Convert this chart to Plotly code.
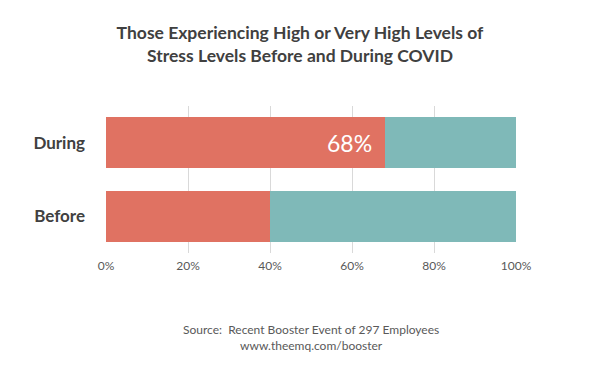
import plotly.graph_objects as go

categories = ["Before", "During"]
high_stress = [40, 68]
rest = [60, 32]
label_value = "68%"
x_ticks = [0, 20, 40, 60, 80, 100]
x_tick_labels = ["0%", "20%", "40%", "60%", "80%", "100%"]

RED = "#E07262"
TEAL = "#7FB9B8"

fig = go.Figure()
fig.add_trace(go.Bar(
    y=categories, x=high_stress, orientation="h",
    marker=dict(color=RED, line=dict(width=0)),
    hoverinfo="skip", showlegend=False,
))
fig.add_trace(go.Bar(
    y=categories, x=rest, orientation="h",
    marker=dict(color=TEAL, line=dict(width=0)),
    hoverinfo="skip", showlegend=False,
))

fig.update_layout(
    barmode="stack",
    bargap=0.31,
    width=600, height=373,
    margin=dict(l=106, r=84, t=106, b=120),
    paper_bgcolor="white", plot_bgcolor="white",
    font=dict(family="Lato", color="#595959"),
    title=dict(
        text="<b>Those Experiencing High or Very High Levels of<br>Stress Levels Before and During COVID</b>",
        x=0.5, xanchor="center", y=0.895, yanchor="middle",
        font=dict(family="Lato", size=17.5, color="#404040"),
    ),
    xaxis=dict(
        range=[0, 100], tickvals=x_ticks, ticktext=x_tick_labels,
        showgrid=True, gridcolor="#D9D9D9", gridwidth=1,
        zeroline=False, showline=False,
        tickfont=dict(family="Lato", size=12, color="#595959"),
        ticks="", ticklabelstandoff=4,
    ),
    yaxis=dict(
        showgrid=False, zeroline=False, showline=False,
        tickfont=dict(family="Lato", size=17, color="#404040"),
        ticks="", ticklabelstandoff=20,
        tickvals=categories,
        ticktext=["<b>Before</b>", "<b>During</b>"],
    ),
    annotations=[
        dict(
            text=label_value, x=high_stress[1], y=categories[1],
            xref="x", yref="y", xanchor="right", yanchor="middle",
            xshift=-11, showarrow=False,
            font=dict(family="Lato", size=23, color="white"),
        ),
        dict(
            text="Source:  Recent Booster Event of 297 Employees<br>www.theemq.com/booster",
            xref="paper", yref="paper", x=0.5, y=-0.575,
            xanchor="center", yanchor="middle", showarrow=False,
            font=dict(family="Lato", size=12, color="#595959"),
        ),
    ],
)

fig.write_html(
    "out.html",
    config={"displayModeBar": False, "staticPlot": True},
    post_script="document.body.style.margin='0';",
)
